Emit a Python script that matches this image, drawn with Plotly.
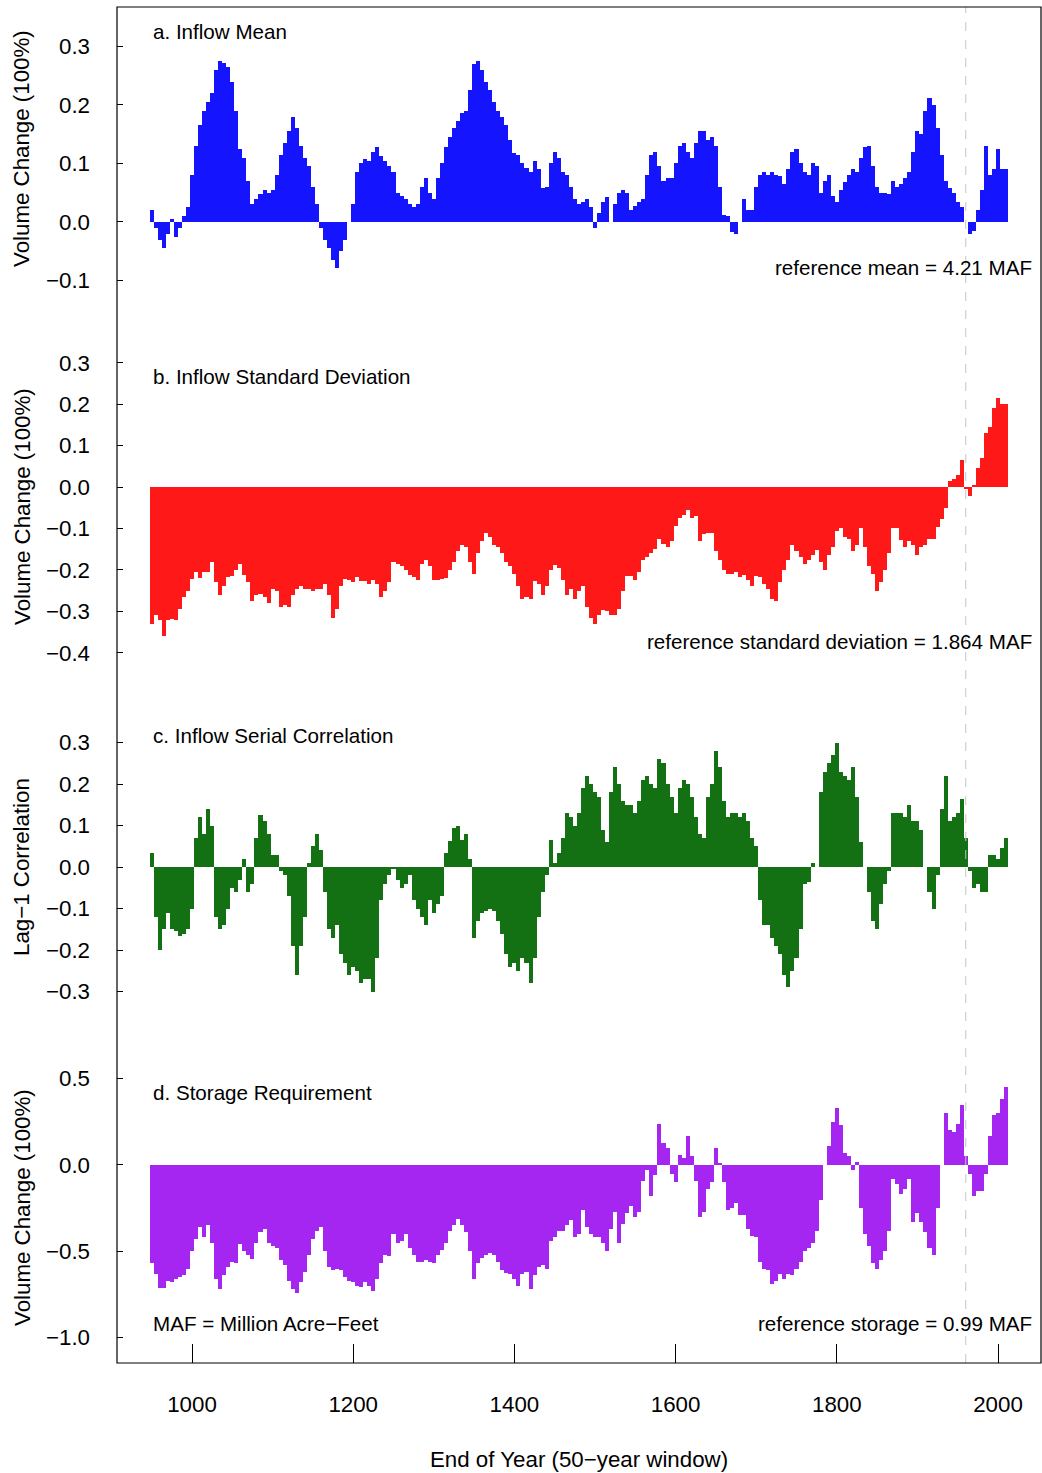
import plotly.graph_objects as go

# End year of each 50-year window (sampled every 5 years)
years = list(range(950, 2011, 5))

inflow_mean = [
    0.02, -0.01, -0.03, -0.045, -0.02, 0.005, -0.025, -0.01, 0.01, 0.025,
    0.08, 0.13, 0.165, 0.19, 0.205, 0.22, 0.26, 0.275, 0.272, 0.265,
    0.24, 0.19, 0.125, 0.11, 0.07, 0.03, 0.04, 0.048, 0.055, 0.05,
    0.055, 0.08, 0.115, 0.135, 0.155, 0.18, 0.16, 0.13, 0.11, 0.095,
    0.06, 0.03, -0.01, -0.03, -0.045, -0.065, -0.078, -0.05, -0.03, 0.0,
    0.03, 0.085, 0.1, 0.108, 0.105, 0.12, 0.128, 0.112, 0.105, 0.095,
    0.085, 0.05, 0.045, 0.04, 0.03, 0.025, 0.03, 0.06, 0.075, 0.05,
    0.04, 0.075, 0.1, 0.128, 0.145, 0.16, 0.172, 0.186, 0.19, 0.225,
    0.27, 0.275, 0.26, 0.24, 0.225, 0.205, 0.19, 0.18, 0.165, 0.14,
    0.118, 0.115, 0.1, 0.092, 0.085, 0.105, 0.09, 0.058, 0.06, 0.1,
    0.12, 0.11, 0.085, 0.08, 0.06, 0.04, 0.03, 0.035, 0.04, 0.025,
    -0.01, 0.015, 0.035, 0.042, 0.0, 0.03, 0.05, 0.055, 0.05, 0.02,
    0.028, 0.035, 0.04, 0.08, 0.115, 0.12, 0.095, 0.07, 0.075, 0.075,
    0.1, 0.13, 0.135, 0.12, 0.11, 0.135, 0.155, 0.155, 0.14, 0.145,
    0.13, 0.06, 0.012, 0.01, -0.017, -0.02, 0.0, 0.04, 0.02, 0.02,
    0.06, 0.08, 0.085, 0.08, 0.085, 0.08, 0.078, 0.065, 0.09, 0.12,
    0.125, 0.1, 0.085, 0.08, 0.1, 0.095, 0.05, 0.07, 0.08, 0.045,
    0.035, 0.055, 0.068, 0.08, 0.09, 0.085, 0.11, 0.128, 0.13, 0.095,
    0.06, 0.05, 0.05, 0.048, 0.07, 0.06, 0.065, 0.075, 0.085, 0.12,
    0.155, 0.15, 0.19, 0.212, 0.2, 0.16, 0.115, 0.07, 0.058, 0.05,
    0.035, 0.025, 0.0, -0.02, -0.015, 0.02, 0.055, 0.13, 0.08, 0.09,
    0.125, 0.09, 0.09,
]

inflow_sd = [
    -0.33, -0.31, -0.32, -0.36, -0.32, -0.318, -0.32, -0.295, -0.265, -0.25,
    -0.222, -0.205, -0.22, -0.205, -0.205, -0.18, -0.23, -0.26, -0.24, -0.217,
    -0.215, -0.2, -0.185, -0.212, -0.23, -0.275, -0.26, -0.258, -0.265, -0.28,
    -0.245, -0.25, -0.29, -0.285, -0.29, -0.26, -0.246, -0.24, -0.245, -0.245,
    -0.25, -0.245, -0.245, -0.235, -0.26, -0.315, -0.295, -0.24, -0.222, -0.225,
    -0.23, -0.218, -0.228, -0.228, -0.235, -0.225, -0.235, -0.265, -0.25, -0.23,
    -0.18, -0.185, -0.19, -0.2, -0.212, -0.217, -0.225, -0.185, -0.177, -0.19,
    -0.225, -0.225, -0.222, -0.22, -0.2, -0.18, -0.155, -0.141, -0.145, -0.18,
    -0.21, -0.16, -0.13, -0.11, -0.12, -0.14, -0.145, -0.16, -0.18, -0.19,
    -0.21, -0.24, -0.27, -0.265, -0.27, -0.228, -0.235, -0.26, -0.24, -0.2,
    -0.189, -0.195, -0.225, -0.26, -0.245, -0.27, -0.25, -0.24, -0.29, -0.315,
    -0.33, -0.31, -0.298, -0.3, -0.31, -0.31, -0.295, -0.25, -0.215, -0.215,
    -0.225, -0.205, -0.177, -0.168, -0.16, -0.15, -0.125, -0.137, -0.145, -0.13,
    -0.095, -0.074, -0.068, -0.055, -0.075, -0.07, -0.13, -0.113, -0.11, -0.11,
    -0.155, -0.177, -0.2, -0.209, -0.209, -0.206, -0.217, -0.212, -0.225, -0.24,
    -0.215, -0.217, -0.233, -0.245, -0.27, -0.275, -0.23, -0.2, -0.175, -0.14,
    -0.155, -0.17, -0.185, -0.175, -0.165, -0.153, -0.18, -0.2, -0.165, -0.145,
    -0.105, -0.1, -0.121, -0.125, -0.155, -0.14, -0.1, -0.145, -0.19, -0.209,
    -0.25, -0.23, -0.2, -0.16, -0.1, -0.1, -0.128, -0.145, -0.13, -0.14,
    -0.165, -0.145, -0.14, -0.125, -0.125, -0.097, -0.076, -0.05, 0.015, 0.02,
    0.03, 0.065, -0.005, -0.022, 0.005, 0.045, 0.07, 0.13, 0.145, 0.19,
    0.215, 0.2, 0.2,
]

serial_corr = [
    0.035, -0.12, -0.2, -0.15, -0.11, -0.15, -0.155, -0.165, -0.16, -0.15,
    -0.1, 0.07, 0.12, 0.08, 0.14, 0.1, -0.12, -0.15, -0.14, -0.1,
    -0.05, -0.06, -0.03, 0.02, -0.06, -0.04, 0.07, 0.125, 0.11, 0.08,
    0.03, 0.03, -0.01, -0.02, -0.07, -0.19, -0.26, -0.19, -0.12, 0.01,
    0.05, 0.08, 0.04, -0.06, -0.15, -0.17, -0.14, -0.21, -0.23, -0.26,
    -0.24, -0.25, -0.28, -0.27, -0.27, -0.3, -0.22, -0.08, -0.04, -0.02,
    -0.005, -0.03, -0.05, -0.04, -0.02, -0.08, -0.1, -0.12, -0.14, -0.08,
    -0.11, -0.09, -0.07, 0.035, 0.063, 0.095, 0.1, 0.065, 0.08, 0.02,
    -0.17, -0.13, -0.11, -0.105, -0.1, -0.105, -0.13, -0.16, -0.21, -0.24,
    -0.23, -0.25, -0.22, -0.23, -0.28, -0.22, -0.12, -0.06, -0.02, 0.065,
    0.01, 0.035, 0.07, 0.13, 0.12, 0.1, 0.13, 0.19, 0.22, 0.2,
    0.18, 0.17, 0.09, 0.06, 0.18, 0.24, 0.2, 0.16, 0.15, 0.15,
    0.13, 0.16, 0.21, 0.22, 0.2, 0.19, 0.26, 0.25, 0.2, 0.17,
    0.13, 0.19, 0.21, 0.2, 0.17, 0.12, 0.08, 0.07, 0.17, 0.2,
    0.28, 0.24, 0.16, 0.12, 0.13, 0.13, 0.12, 0.13, 0.11, 0.07,
    0.05, -0.08, -0.14, -0.14, -0.17, -0.19, -0.21, -0.26, -0.29, -0.25,
    -0.22, -0.15, -0.04, -0.035, 0.01, 0.0, 0.18, 0.23, 0.25, 0.27,
    0.3, 0.23, 0.22, 0.21, 0.24, 0.17, 0.06, 0.0, -0.06, -0.13,
    -0.15, -0.09, -0.04, -0.01, 0.13, 0.13, 0.13, 0.12, 0.15, 0.11,
    0.11, 0.09, 0.0, -0.06, -0.1, -0.02, 0.14, 0.22, 0.11, 0.12,
    0.13, 0.165, 0.07, -0.01, -0.05, -0.04, -0.06, -0.06, 0.03, 0.03,
    0.02, 0.045, 0.07,
]

storage_req = [
    -0.57, -0.63, -0.71, -0.71, -0.67, -0.68, -0.66, -0.65, -0.635, -0.6,
    -0.5, -0.43, -0.36, -0.42, -0.35, -0.45, -0.66, -0.72, -0.64, -0.59,
    -0.56, -0.565, -0.46, -0.5, -0.52, -0.545, -0.45, -0.39, -0.37, -0.45,
    -0.47, -0.48, -0.55, -0.58, -0.67, -0.72, -0.74, -0.68, -0.62, -0.52,
    -0.43, -0.38, -0.36, -0.5, -0.59, -0.61, -0.6, -0.61, -0.65, -0.67,
    -0.68, -0.7, -0.705, -0.68, -0.7, -0.73, -0.66, -0.57, -0.52, -0.53,
    -0.4, -0.45, -0.44, -0.4, -0.48, -0.52, -0.56, -0.56, -0.55, -0.56,
    -0.57, -0.52, -0.49, -0.45, -0.38, -0.35, -0.31, -0.35, -0.39, -0.5,
    -0.66, -0.57, -0.54, -0.52, -0.51, -0.52, -0.56, -0.61, -0.625, -0.63,
    -0.66, -0.7, -0.63, -0.62, -0.72, -0.64, -0.59, -0.58, -0.6, -0.44,
    -0.42, -0.38, -0.38, -0.35, -0.32, -0.42, -0.4, -0.26, -0.36, -0.4,
    -0.42, -0.42, -0.45, -0.5, -0.37, -0.27, -0.45, -0.34, -0.28, -0.24,
    -0.3, -0.27, -0.09, -0.03, -0.18, -0.06, 0.24, 0.13, 0.1, -0.05,
    -0.1, 0.06, 0.04, 0.17, 0.05, -0.09, -0.3, -0.27, -0.14, -0.1,
    0.1, 0.01, -0.1, -0.26, -0.25, -0.22, -0.29, -0.29, -0.37, -0.41,
    -0.42, -0.56, -0.6, -0.61, -0.69, -0.67, -0.63, -0.66, -0.63, -0.64,
    -0.6, -0.56, -0.5, -0.48, -0.45, -0.38, -0.2, 0.0, 0.11, 0.25,
    0.33, 0.23, 0.07, 0.05, -0.03, 0.02, -0.25, -0.4, -0.47, -0.57,
    -0.6, -0.55, -0.5, -0.38, -0.08, -0.11, -0.17, -0.14, -0.08, -0.33,
    -0.28, -0.33, -0.39, -0.48, -0.52, -0.25, 0.0, 0.3, 0.2, 0.19,
    0.24, 0.35, 0.05, -0.05, -0.18, -0.15, -0.15, -0.05, 0.17, 0.29,
    0.3, 0.38, 0.45,
]

x_ticks = [1000, 1200, 1400, 1600, 1800, 2000]
ticks_a = [-0.1, 0.0, 0.1, 0.2, 0.3]
ticks_b = [-0.4, -0.3, -0.2, -0.1, 0.0, 0.1, 0.2, 0.3]
ticks_c = [-0.3, -0.2, -0.1, 0.0, 0.1, 0.2, 0.3]
ticks_d = [-1.0, -0.5, 0.0, 0.5]

FONT = "Liberation Sans, Arial, Helvetica, sans-serif"
FS = 20.6      # in-plot text
FS_AX = 22.3   # tick labels and axis titles


def lab(v):
    s = f"{v:.1f}"
    return s.replace("-", "\u2212")


fig = go.Figure()

series = [
    (inflow_mean, "#1414ff", "y"),
    (inflow_sd, "#ff1818", "y2"),
    (serial_corr, "#137113", "y3"),
    (storage_req, "#a526f0", "y4"),
]
for vals, col, ya in series:
    fig.add_trace(go.Bar(
        x=years, y=vals, width=5, xaxis="x", yaxis=ya,
        marker=dict(color=col, line=dict(width=0)),
        showlegend=False, hoverinfo="skip",
    ))


def yax(domain, rng, ticks):
    return dict(
        domain=domain, range=rng, anchor="x",
        tickmode="array", tickvals=ticks, ticktext=[lab(t) for t in ticks],
        ticks="inside", ticklen=6, tickcolor="black", tickwidth=1,
        ticklabelstandoff=26,
        showgrid=False, zeroline=False, showline=False,
        tickfont=dict(family=FONT, size=FS_AX, color="black"),
    )


fig.update_layout(
    width=1042, height=1473,
    margin=dict(l=117, r=1, t=7, b=110),
    paper_bgcolor="white", plot_bgcolor="white",
    barmode="overlay", bargap=0,
    font=dict(family=FONT, size=FS, color="black"),
    xaxis=dict(
        range=[906.95, 2053.35], anchor="y4",
        tickmode="array", tickvals=x_ticks, ticktext=[str(t) for t in x_ticks],
        ticks="inside", ticklen=19, tickcolor="black", tickwidth=1,
        ticklabelstandoff=26,
        showgrid=False, zeroline=False, showline=False,
        tickfont=dict(family=FONT, size=FS_AX, color="black"),
    ),
    yaxis=yax([0.75, 1.0], [-0.212, 0.3675], ticks_a),
    yaxis2=yax([0.5, 0.75], [-0.478, 0.3406], ticks_b),
    yaxis3=yax([0.25, 0.5], [-0.378, 0.4386], ticks_c),
    yaxis4=yax([0.0, 0.25], [-1.147, 0.8166], ticks_d),
)

# dashed reference line and outer box
fig.add_shape(type="line", xref="x", yref="paper", x0=1960, x1=1960, y0=0, y1=1,
              line=dict(color="#c4c4c4", width=1, dash="dash"), layer="above")
fig.add_shape(type="rect", xref="paper", yref="paper", x0=0, x1=1, y0=0, y1=1,
              line=dict(color="black", width=1.2), layer="above")

ann = []


def txt(x, y, yref, s, anchor):
    ann.append(dict(x=x, y=y, xref="x", yref=yref, text=s, showarrow=False,
                    xanchor=anchor, yanchor="middle",
                    font=dict(family=FONT, size=FS, color="black")))


txt(949, 0.325, "y", "a. Inflow Mean", "left")
txt(2045, -0.077, "y", "reference mean = 4.21 MAF", "right")
txt(949, 0.268, "y2", "b. Inflow Standard Deviation", "left")
txt(2045, -0.372, "y2", "reference standard deviation = 1.864 MAF", "right")
txt(949, 0.318, "y3", "c. Inflow Serial Correlation", "left")
txt(949, 0.417, "y4", "d. Storage Requirement", "left")
txt(949, -0.921, "y4", "MAF = Million Acre\u2212Feet", "left")
txt(2045, -0.921, "y4", "reference storage = 0.99 MAF", "right")

# y-axis titles
for s, py in [("Volume Change (100%)", 149), ("Volume Change (100%)", 507),
              ("Lag\u22121 Correlation", 867), ("Volume Change (100%)", 1208)]:
    ann.append(dict(x=(22 - 117) / 924, y=(1363 - py) / 1356, xref="paper", yref="paper",
                    text=s, showarrow=False, textangle=-90,
                    xanchor="center", yanchor="middle",
                    font=dict(family=FONT, size=FS_AX, color="black")))

# x-axis title
ann.append(dict(x=0.5, y=(1363 - 1459) / 1356, xref="paper", yref="paper",
                text="End of Year (50\u2212year window)", showarrow=False,
                xanchor="center", yanchor="middle",
                font=dict(family=FONT, size=FS_AX, color="black")))

fig.update_layout(annotations=ann)

fig.write_html("out.html")
